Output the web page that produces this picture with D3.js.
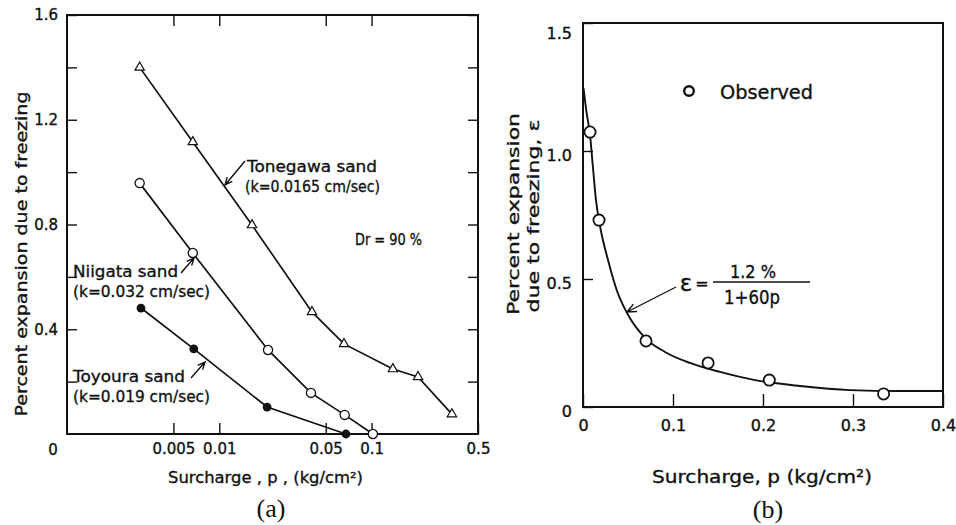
<!DOCTYPE html>
<html>
<head>
<meta charset="utf-8">
<script src="https://cdn.jsdelivr.net/npm/d3@7"></script>
<style>
  body { margin: 0; background: #fff; }
  svg { display: block; background: #fff; }
  text { font-family: "DejaVu Sans", "Noto Sans", sans-serif; fill: #111; stroke: #111; stroke-width: 0.35px; }
  text.serif { font-family: "Liberation Serif", "Times New Roman", serif; stroke: none; }
</style>
</head>
<body>
<svg id="chart" width="956" height="525"></svg>
<script>
// ---- Panel (a): expansion due to freezing vs surcharge (log scale) ----
const tonegawaP = [0.003, 0.0067, 0.0164, 0.0406, 0.0659, 0.138, 0.202, 0.337];
const tonegawaE = [1.40, 1.115, 0.798, 0.466, 0.344, 0.248, 0.218, 0.076];
const niigataP  = [0.003, 0.0067, 0.0209, 0.040, 0.0666, 0.102];
const niigataE  = [0.958, 0.691, 0.321, 0.157, 0.073, 0.0];
const toyouraP  = [0.00306, 0.0068, 0.0206, 0.0679];
const toyouraE  = [0.481, 0.325, 0.103, 0.0];

const xTicksA      = [0.005, 0.01, 0.05, 0.1, 0.5];
const xTickLabelsA = ["0.005", "0.01", "0.05", "0.1", "0.5"];
const yTicksA      = [0.2, 0.4, 0.6, 0.8, 1.0, 1.2, 1.4, 1.6];
const yTickLabelsA = [0.4, 0.8, 1.2, 1.6];

// ---- Panel (b): observed expansion and fitted curve ----
const observedP = [0.0078, 0.0178, 0.070, 0.139, 0.207, 0.334];
const observedE = [1.074, 0.73, 0.258, 0.172, 0.105, 0.051];
const fitP = [0.0006, 0.0039, 0.0078, 0.0111, 0.0144, 0.0189, 0.0278, 0.0378, 0.0489,
              0.0689, 0.0911, 0.1189, 0.1522, 0.1911, 0.2411, 0.2967, 0.3522, 0.40];
const fitE = [1.246, 1.152, 1.063, 0.934, 0.809, 0.707, 0.574, 0.453, 0.367,
              0.270, 0.215, 0.172, 0.137, 0.105, 0.082, 0.066, 0.0625, 0.0625];

const xTicksB = [0, 0.1, 0.2, 0.3, 0.4];
const yTicksB = [0, 0.5, 1.0, 1.5];

const ink = "#111";
const svg = d3.select("#chart");

function label(g, str, x, y, size, len, anchor) {
  const t = g.append("text").attr("x", x).attr("y", y)
    .attr("font-size", size).attr("text-anchor", anchor || "start").text(str);
  if (len) t.attr("textLength", len).attr("lengthAdjust", "spacingAndGlyphs");
  return t;
}

function arrow(g, x1, y1, x2, y2, head) {
  const a = Math.atan2(y2 - y1, x2 - x1), L = head || 8, s = 0.42;
  const d = `M${x1},${y1}L${x2},${y2}` +
    `M${x2 - L * Math.cos(a - s)},${y2 - L * Math.sin(a - s)}L${x2},${y2}` +
    `L${x2 - L * Math.cos(a + s)},${y2 - L * Math.sin(a + s)}`;
  g.append("path").attr("d", d).attr("fill", "none").attr("stroke", ink).attr("stroke-width", 1.4);
}

function styleAxis(sel) {
  sel.select(".domain").remove();
  sel.selectAll(".tick line").attr("stroke", ink).attr("stroke-width", 1.4);
  sel.selectAll(".tick text").attr("fill", ink).attr("font-family", '"DejaVu Sans", sans-serif');
}

// ================= Panel (a) =================
const gA = svg.append("g");
const xA = d3.scaleLog().domain([0.001, 0.5]).range([67, 478]);
const yA = d3.scaleLinear().domain([0, 1.6]).range([434, 15]);

gA.append("g").attr("transform", `translate(0,${yA(0)})`)
  .call(d3.axisBottom(xA).tickValues(xTicksA).tickSize(-11).tickPadding(9)
    .tickFormat((d, i) => xTickLabelsA[i]))
  .call(styleAxis).selectAll(".tick text").attr("font-size", 15);

gA.append("g").attr("transform", `translate(0,${yA(1.6)})`)
  .call(d3.axisTop(xA).tickValues(xTicksA.slice(0, 4)).tickSize(-11).tickFormat(""))
  .call(styleAxis);

gA.append("g").attr("transform", `translate(${xA(0.001)},0)`)
  .call(d3.axisLeft(yA).tickValues(yTicksA).tickSize(-10).tickPadding(9)
    .tickFormat(d => yTickLabelsA.includes(d) ? d.toFixed(1) : ""))
  .call(styleAxis).selectAll(".tick text").attr("font-size", 15);

gA.append("g").attr("transform", `translate(${xA(0.5)},0)`)
  .call(d3.axisRight(yA).tickValues(yTicksA).tickSize(-10).tickFormat(""))
  .call(styleAxis);

label(gA, "0", 53, 455, 15, null, "middle");

gA.append("rect")
  .attr("x", xA(0.001)).attr("y", yA(1.6))
  .attr("width", xA(0.5) - xA(0.001)).attr("height", yA(0) - yA(1.6))
  .attr("fill", "none").attr("stroke", ink).attr("stroke-width", 2);

const seriesA = [
  { p: tonegawaP, e: tonegawaE, marker: "triangle" },
  { p: niigataP,  e: niigataE,  marker: "open" },
  { p: toyouraP,  e: toyouraE,  marker: "filled" }
];
const lineA = d3.line().x(d => xA(d[0])).y(d => yA(d[1]));

seriesA.forEach(s => {
  const pts = s.p.map((p, i) => [p, s.e[i]]);
  gA.append("path").attr("d", lineA(pts)).attr("fill", "none")
    .attr("stroke", ink).attr("stroke-width", 1.7);
  const mk = gA.append("g").selectAll("g").data(pts).join("g")
    .attr("transform", d => `translate(${xA(d[0])},${yA(d[1])})`);
  if (s.marker === "triangle") {
    mk.append("path").attr("d", d3.symbol(d3.symbolTriangle, 38)())
      .attr("fill", "#fff").attr("stroke", ink).attr("stroke-width", 1.2);
  } else if (s.marker === "open") {
    mk.append("circle").attr("r", 4.6).attr("fill", "#fff")
      .attr("stroke", ink).attr("stroke-width", 1.3);
  } else {
    mk.append("circle").attr("r", 4.4).attr("fill", ink);
  }
});

label(gA, "Tonegawa sand", 247, 172, 16, 130);
label(gA, "(k=0.0165 cm/sec)", 245, 192, 16, 135);
arrow(gA, 245, 161, 225, 185);
label(gA, "Dr = 90 %", 355, 245, 16, 67);
label(gA, "Niigata sand", 73, 277, 16, 105);
label(gA, "(k=0.032 cm/sec)", 73, 297, 16, 137);
arrow(gA, 181, 273, 194, 258);
label(gA, "Toyoura sand", 73, 382, 16, 112);
label(gA, "(k=0.019 cm/sec)", 73, 402, 16, 137);
arrow(gA, 191, 378, 205, 362);

gA.append("text").attr("transform", "translate(27,254) rotate(-90)")
  .attr("text-anchor", "middle").attr("font-size", 16)
  .attr("textLength", 325).attr("lengthAdjust", "spacingAndGlyphs")
  .text("Percent expansion due to freezing");

label(gA, "Surcharge , p , (kg/cm²)", 168, 483, 16, 195);
label(gA, "(a)", 271, 517, 26, null, "middle").attr("class", "serif");

// ================= Panel (b) =================
const gB = svg.append("g");
const xB = d3.scaleLinear().domain([0, 0.4]).range([583, 943]);
const yB = d3.scaleLinear().domain([0, 1.5]).range([407, 23]);

gB.append("g").attr("transform", `translate(0,${yB(0)})`)
  .call(d3.axisBottom(xB).tickValues(xTicksB).tickSize(-13).tickPadding(13)
    .tickFormat(d => d === 0 ? "0" : d.toFixed(1)))
  .call(styleAxis).selectAll(".tick text").attr("font-size", 16);

gB.append("g").attr("transform", `translate(${xB(0)},0)`)
  .call(d3.axisLeft(yB).tickValues(yTicksB).tickSize(-10).tickPadding(11)
    .tickFormat(d => d === 0 ? "0" : d.toFixed(1)))
  .call(styleAxis).selectAll(".tick text").attr("font-size", 16)
  .attr("dy", d => d === 1.5 ? "0.95em" : "0.62em");

gB.append("rect")
  .attr("x", xB(0)).attr("y", yB(1.5))
  .attr("width", xB(0.4) - xB(0)).attr("height", yB(0) - yB(1.5))
  .attr("fill", "none").attr("stroke", ink).attr("stroke-width", 2);

const fitLine = d3.line().curve(d3.curveMonotoneX)
  .x(d => xB(d[0])).y(d => yB(d[1]));
gB.append("path").attr("d", fitLine(fitP.map((p, i) => [p, fitE[i]])))
  .attr("fill", "none").attr("stroke", ink).attr("stroke-width", 1.9);

gB.append("g").selectAll("circle").data(observedP.map((p, i) => [p, observedE[i]]))
  .join("circle").attr("cx", d => xB(d[0])).attr("cy", d => yB(d[1]))
  .attr("r", 5.6).attr("fill", "#fff").attr("stroke", ink).attr("stroke-width", 1.8);

// legend
gB.append("circle").attr("cx", 689).attr("cy", 91).attr("r", 4.8)
  .attr("fill", "none").attr("stroke", ink).attr("stroke-width", 2.4);
label(gB, "Observed", 720, 99, 20, 93);

// fitted-curve equation
label(gB, "ε", 686, 291, 23, null, "middle");
label(gB, "=", 702, 289, 16, null, "middle");
label(gB, "1.2 %", 753, 278, 17, 46, "middle");
gB.append("line").attr("x1", 713).attr("x2", 810).attr("y1", 282).attr("y2", 282)
  .attr("stroke", ink).attr("stroke-width", 1.4);
label(gB, "1+60p", 752, 304, 19, 56, "middle");
arrow(gB, 676, 287, 627, 312, 10);

gB.append("text").attr("transform", "translate(519,214) rotate(-90)")
  .attr("text-anchor", "middle").attr("font-size", 16)
  .attr("textLength", 202).attr("lengthAdjust", "spacingAndGlyphs")
  .text("Percent  expansion");
gB.append("text").attr("transform", "translate(539,216) rotate(-90)")
  .attr("text-anchor", "middle").attr("font-size", 16)
  .attr("textLength", 193).attr("lengthAdjust", "spacingAndGlyphs")
  .text("due to freezing, ε");

label(gB, "Surcharge, p  (kg/cm²)", 652, 483, 18, 220);
label(gB, "(b)", 768, 518, 26, null, "middle").attr("class", "serif");
</script>
</body>
</html>
